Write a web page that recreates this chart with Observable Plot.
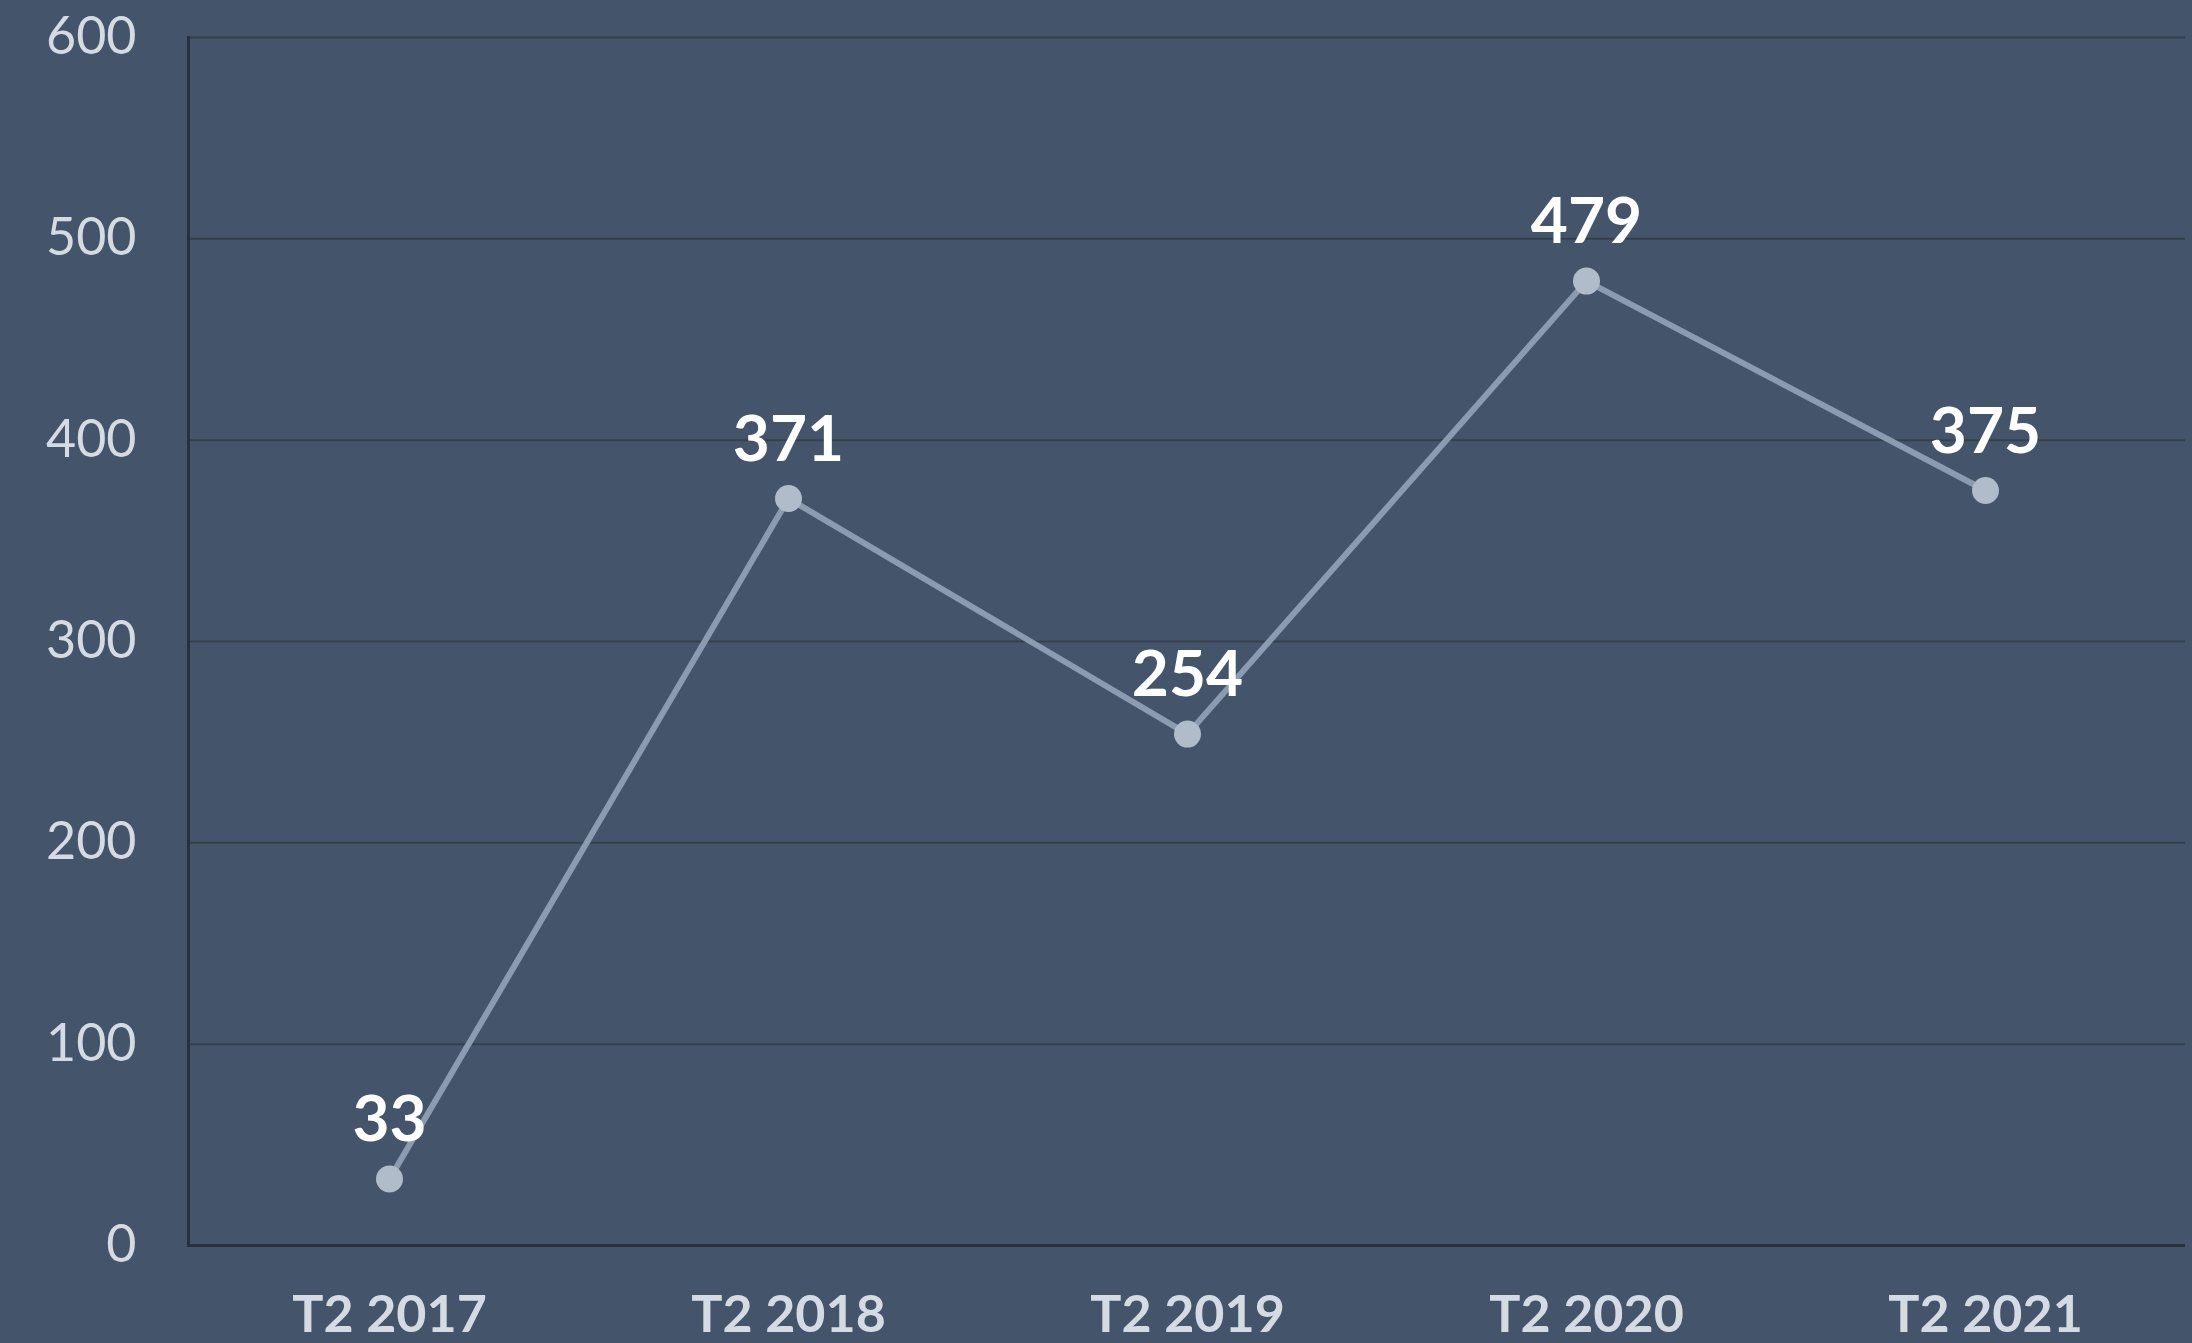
<!DOCTYPE html>
<html>
<head>
<meta charset="utf-8">
<script src="https://cdn.jsdelivr.net/npm/d3@7"></script>
<script src="https://cdn.jsdelivr.net/npm/@observablehq/plot@0.6"></script>
<style>
  html, body { margin: 0; padding: 0; background: #44546a; overflow: hidden; }
  #chart svg { display: block; }
</style>
</head>
<body>
<div id="chart"></div>
<script>
const periods = ["T2 2017", "T2 2018", "T2 2019", "T2 2020", "T2 2021"];
const values = [33, 371, 254, 479, 375];
const yTicks = [0, 100, 200, 300, 400, 500, 600];

const data = periods.map((p, i) => ({period: p, value: values[i]}));

const chart = Plot.plot({
  width: 2192,
  height: 1343,
  marginLeft: 188,
  marginRight: 7,
  marginTop: 37,
  marginBottom: 98,
  style: {
    background: "#44546a",
    fontFamily: "Lato, sans-serif",
    fontSize: "52px",
    overflow: "visible"
  },
  x: {type: "point", domain: periods, padding: 0.5},
  y: {domain: [0, 600]},
  marks: [
    Plot.gridY(yTicks, {stroke: "#34404d", strokeOpacity: 1, strokeWidth: 2}),
    Plot.frame({anchor: "left", stroke: "#27313b", strokeWidth: 3}),
    Plot.ruleY([0], {stroke: "#27313b", strokeWidth: 3}),
    Plot.axisY(yTicks, {tickSize: 0, tickPadding: 52, fill: "#d5dbe3", fontSize: 52, label: null}),
    Plot.axisX({tickSize: 0, tickPadding: 50, fill: "#d5dbe3", fontSize: 52, fontWeight: "bold", label: null}),
    Plot.line(data, {x: "period", y: "value", stroke: "#8b9bb0", strokeWidth: 6}),
    Plot.dot(data, {x: "period", y: "value", r: 13.5, fill: "#b0bcc9", stroke: "none"}),
    Plot.text(data, {x: "period", y: "value", text: d => String(d.value), dy: -38, lineAnchor: "bottom", fill: "#ffffff", fontSize: 64, fontWeight: "bold"})
  ]
});
document.getElementById("chart").appendChild(chart);
</script>
</body>
</html>
